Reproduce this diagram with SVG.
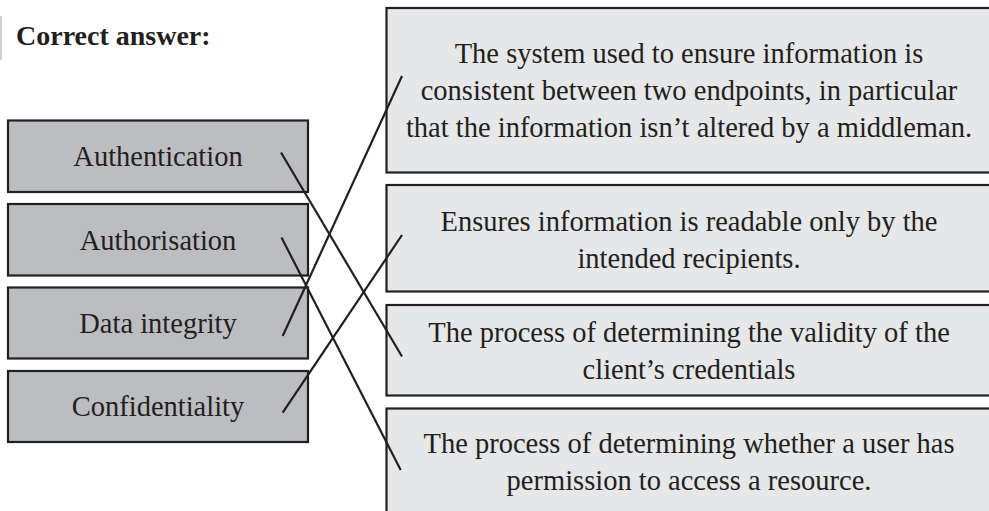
<svg xmlns="http://www.w3.org/2000/svg" width="989" height="511" viewBox="0 0 989 511">
<style>
.l{fill:#bcbdc0;stroke:#231f20;stroke-width:2.2}
.r{fill:#e6e7e8;stroke:#231f20;stroke-width:2.2}
text{font-family:"Liberation Serif","Times New Roman",serif;fill:#231f20;text-anchor:middle;font-size:28.5px}
.h{font-weight:bold;text-anchor:start;font-size:28px}
.c{fill:none;stroke:#231f20;stroke-width:2.2;stroke-linecap:butt}
</style>
<rect x="0" y="16" width="2" height="44" fill="#d0d0d0"/>
<text class="h" x="16" y="45">Correct answer:</text>
<g id="authentication"><rect class="l" x="8" y="120.5" width="300" height="71.5"/><text x="158" y="166">Authentication</text></g>
<g id="authorisation"><rect class="l" x="8" y="204" width="300" height="71.5"/><text x="158" y="249.5">Authorisation</text></g>
<g id="data-integrity"><rect class="l" x="8" y="287.5" width="300" height="71"/><text x="158" y="333">Data integrity</text></g>
<g id="confidentiality"><rect class="l" x="8" y="371" width="300" height="71"/><text x="158" y="416">Confidentiality</text></g>
<g id="def-integrity"><rect class="r" x="386.5" y="8" width="620" height="164.5"/><text x="689" y="63">The system used to ensure information is</text><text x="689" y="100">consistent between two endpoints, in particular</text><text x="689" y="137">that the information isn’t altered by a middleman.</text></g>
<g id="def-confidentiality"><rect class="r" x="386.5" y="185" width="620" height="106.5"/><text x="689" y="230.5">Ensures information is readable only by the</text><text x="689" y="268">intended recipients.</text></g>
<g id="def-authentication"><rect class="r" x="386.5" y="305" width="620" height="90.5"/><text x="689" y="341.5">The process of determining the validity of the</text><text x="689" y="379">client’s credentials</text></g>
<g id="def-authorisation"><rect class="r" x="386.5" y="408.5" width="620" height="120"/><text x="689" y="453">The process of determining whether a user has</text><text x="689" y="490">permission to access a resource.</text></g>
<g id="connectors">
<line class="c" x1="281" y1="152.5" x2="402" y2="356.5"/>
<line class="c" x1="281.5" y1="237.5" x2="400.7" y2="470"/>
<line class="c" x1="282.7" y1="336" x2="402" y2="76"/>
<line class="c" x1="282.7" y1="412.7" x2="402" y2="235"/>
</g>
</svg>
